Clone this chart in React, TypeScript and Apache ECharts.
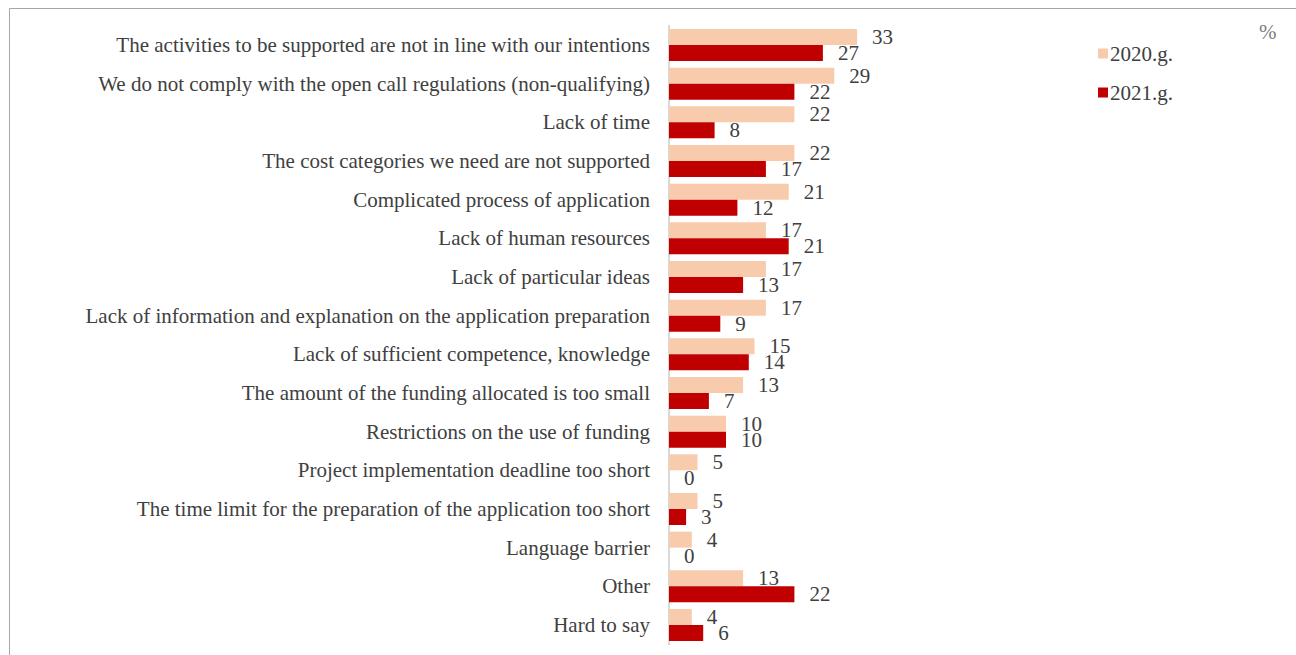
import React, { useEffect, useRef } from "react";
import * as echarts from "echarts";

const categories = [
  "The activities to be supported are not in line with our intentions",
  "We do not comply with the open call regulations (non-qualifying)",
  "Lack of time",
  "The cost categories we need are not supported",
  "Complicated process of application",
  "Lack of human resources",
  "Lack of particular ideas",
  "Lack of information and explanation on the application preparation",
  "Lack of sufficient competence, knowledge",
  "The amount of the funding allocated is too small",
  "Restrictions on the use of funding",
  "Project implementation deadline too short",
  "The time limit for the preparation of the application too short",
  "Language barrier",
  "Other",
  "Hard to say",
];
const values2020 = [33, 29, 22, 22, 21, 17, 17, 17, 15, 13, 10, 5, 5, 4, 13, 4];
const values2021 = [27, 22, 8, 17, 12, 21, 13, 9, 14, 7, 10, 0, 3, 0, 22, 6];
const seriesNames = ["2020.g.", "2021.g."];
const unitLabel = "%";

const FONT = "'Liberation Serif', 'Times New Roman', serif";

export default function App() {
  const ref = useRef<HTMLDivElement>(null);
  useEffect(() => {
    if (!ref.current) return;
    const chart = echarts.init(ref.current, undefined, { renderer: "svg" });
    const label = {
      show: true,
      position: "right" as const,
      distance: 15,
      color: "#404040",
      fontFamily: FONT,
      fontSize: 21,
    };
    chart.setOption({
      animation: false,
      backgroundColor: "#ffffff",
      graphic: [
        {
          type: "rect",
          left: 7,
          top: 6,
          shape: { width: 1400, height: 800 },
          style: { fill: "none", stroke: "#a6a6a6", lineWidth: 1 },
          silent: true,
        },
        {
          type: "text",
          left: 1259,
          top: 21,
          style: { text: unitLabel, fill: "#808080", font: `21px ${FONT}` },
        },
      ],
      legend: {
        orient: "vertical",
        left: 1093,
        top: 38,
        itemWidth: 10,
        itemHeight: 10,
        itemGap: 18,
        icon: "rect",
        textStyle: { color: "#404040", fontFamily: FONT, fontSize: 21, padding: [0, 0, 0, -3] },
        data: seriesNames,
      },
      grid: {
        left: 669,
        top: 25.7,
        width: 228,
        height: 618.6,
        containLabel: false,
      },
      xAxis: {
        type: "value",
        min: 0,
        max: 40,
        show: false,
      },
      yAxis: {
        type: "category",
        data: categories,
        inverse: true,
        axisTick: { show: false },
        axisLine: { show: true, lineStyle: { color: "#d9d9d9", width: 2 } },
        axisLabel: {
          color: "#404040",
          fontFamily: FONT,
          fontSize: 21,
          margin: 19,
        },
        splitLine: { show: false },
      },
      series: [
        {
          name: seriesNames[0],
          type: "bar",
          data: values2020,
          barWidth: 16,
          barGap: "0%",
          itemStyle: { color: "#F8CBAD" },
          label,
        },
        {
          name: seriesNames[1],
          type: "bar",
          data: values2021,
          barWidth: 16,
          barGap: "0%",
          itemStyle: { color: "#C00000" },
          label,
        },
      ],
    });
    return () => chart.dispose();
  }, []);
  return (
    <div
      ref={ref}
      style={{ position: "fixed", left: 0, top: 0, width: 1296, height: 655 }}
    />
  );
}
